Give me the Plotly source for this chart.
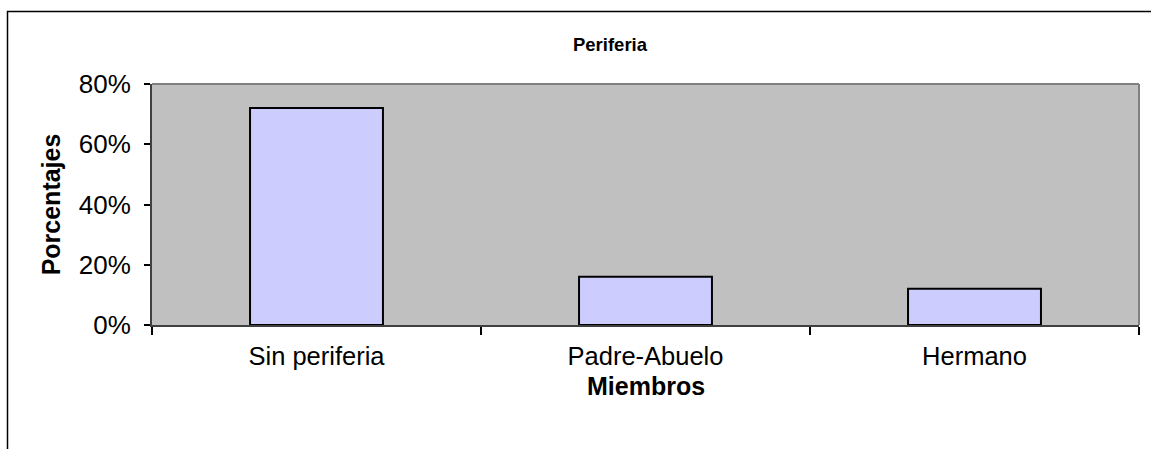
import plotly.graph_objects as go

# Distribución de la periferia familiar
categorias = ["Sin periferia", "Padre-Abuelo", "Hermano"]
porcentajes = [72, 16, 12]
ticks_y = [0, 20, 40, 60, 80]
etiquetas_y = ["0%", "20%", "40%", "60%", "80%"]

W, H = 1151, 449
L, R, T, B = 152, 12, 84, 124
pw, ph = W - L - R, H - T - B


def px_x(p):
    return (p - L) / pw


def px_y(p):
    return (H - B - p) / ph


fig = go.Figure(
    go.Bar(
        x=categorias,
        y=porcentajes,
        width=0.404,
        marker=dict(color="#CCCCFF", line=dict(color="#000000", width=2)),
        hoverinfo="skip",
    )
)

fuente = "Liberation Sans, Arial, sans-serif"

fig.update_layout(
    width=W,
    height=H,
    margin=dict(l=L, r=R, t=T, b=B, pad=0),
    paper_bgcolor="#FFFFFF",
    plot_bgcolor="#C0C0C0",
    showlegend=False,
    font=dict(family=fuente, color="#000000"),
    title=dict(
        text="<b>Periferia</b>",
        font=dict(size=18.5, family=fuente, color="#000000"),
        x=px_x(610),
        xref="paper",
        xanchor="center",
        y=1 - 45 / H,
        yref="container",
        yanchor="middle",
    ),
    bargap=0.6,
)

fig.update_xaxes(
    type="category",
    range=[-0.5, 2.5],
    tickson="boundaries",
    ticks="outside",
    ticklen=8,
    tickwidth=2,
    tickcolor="#000000",
    ticklabelstandoff=7,
    showline=True,
    linecolor="#404040",
    linewidth=2,
    showgrid=False,
    zeroline=False,
    tickfont=dict(size=25.5, family=fuente, color="#000000"),
)

fig.update_yaxes(
    range=[0, 80],
    tickvals=ticks_y,
    ticktext=etiquetas_y,
    ticks="outside",
    ticklen=6,
    tickwidth=2,
    tickcolor="#000000",
    ticklabelstandoff=8,
    showline=True,
    linecolor="#404040",
    linewidth=2,
    showgrid=False,
    zeroline=False,
    tickfont=dict(size=26, family=fuente, color="#000000"),
    title=dict(
        text="<b>Porcentajes</b>",
        font=dict(size=25, family=fuente, color="#000000"),
        standoff=11,
    ),
)

# Título del eje de categorías
fig.add_annotation(
    text="<b>Miembros</b>", xref="paper", yref="paper",
    x=px_x(646), y=px_y(386), xanchor="center", yanchor="middle",
    showarrow=False, font=dict(size=25, family=fuente, color="#000000"),
)

# Marco superior y derecho del área de trazado
fig.add_shape(type="line", xref="paper", yref="paper", x0=0, x1=1, y0=1, y1=1,
              line=dict(color="#808080", width=2))
fig.add_shape(type="line", xref="paper", yref="paper", x0=1, x1=1, y0=0, y1=1,
              line=dict(color="#808080", width=2))

# Borde exterior del gráfico
fig.add_shape(type="rect", xref="paper", yref="paper",
              x0=px_x(7.5), x1=px_x(W + 40), y0=px_y(H + 40), y1=px_y(11.5),
              line=dict(color="#000000", width=1.5), fillcolor="rgba(0,0,0,0)",
              layer="below")

fig.write_html("out.html")
